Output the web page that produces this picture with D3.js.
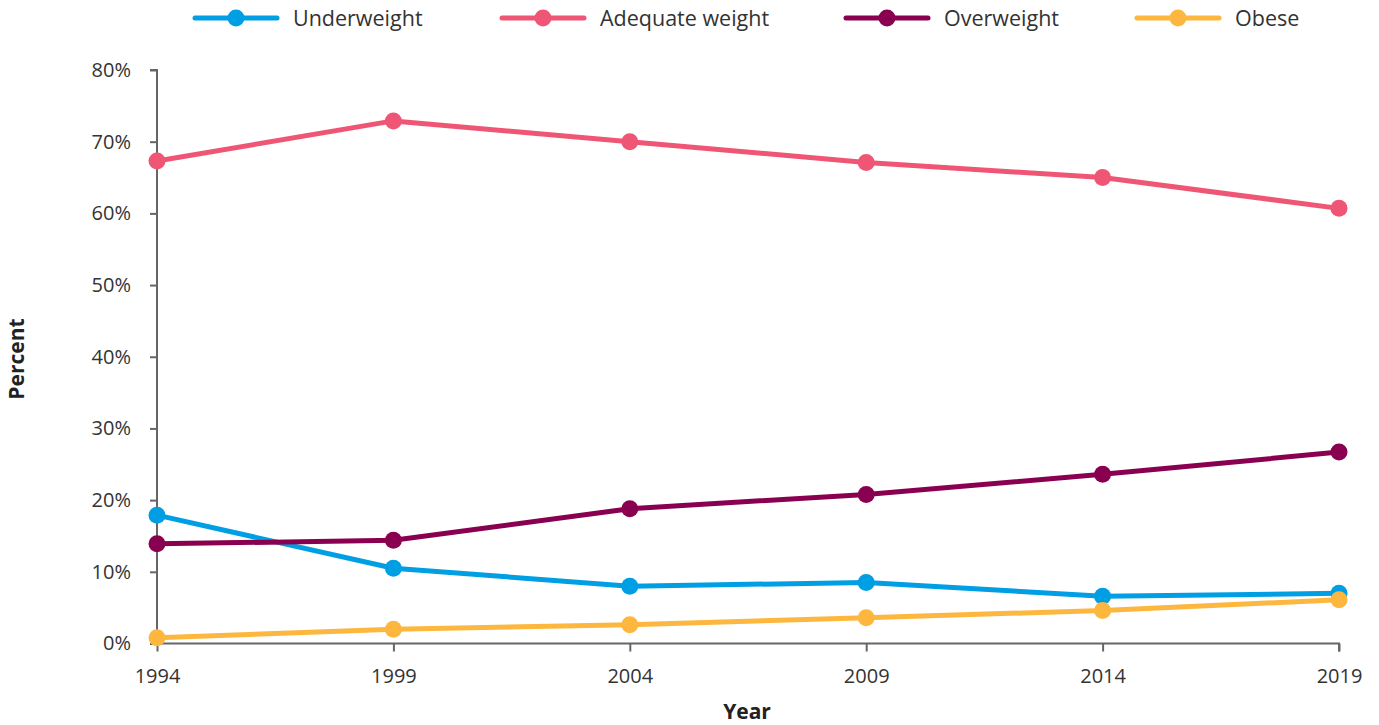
<!DOCTYPE html>
<html><head><meta charset="utf-8">
<script src="https://cdn.jsdelivr.net/npm/d3@7"></script>
<style>body{margin:0;background:#fff;}svg{display:block;font-family:"Open Sans",sans-serif;}</style>
</head><body><svg id="c" width="1379" height="725"></svg>
<script>
const years = [1994, 1999, 2004, 2009, 2014, 2019];
const underweight = [17.9, 10.5, 8.0, 8.5, 6.6, 7.0];
const adequate = [67.3, 72.9, 70.0, 67.1, 65.0, 60.7];
const overweight = [13.9, 14.4, 18.8, 20.8, 23.6, 26.7];
const obese = [0.8, 2.0, 2.6, 3.6, 4.6, 6.1];
const seriesNames = ["Underweight", "Adequate weight", "Overweight", "Obese"];
const seriesColors = ["#009fe3", "#ef5675", "#8a0051", "#fdb73f"];
const yTicks = [0, 10, 20, 30, 40, 50, 60, 70, 80];
const seriesValues = [underweight, adequate, overweight, obese];

const svg = d3.select("#c");
const x = d3.scaleLinear().domain([1994, 2019]).range([157, 1339]);
const y = d3.scaleLinear().domain([0, 80]).range([643.5, 70]);

// y axis
const yAxis = svg.append("g").attr("transform", "translate(157,0)")
  .call(d3.axisLeft(y).tickValues(yTicks).tickFormat(d => d + "%").tickSize(7).tickPadding(19));
yAxis.select(".domain").attr("stroke", "#666").attr("stroke-width", 2).attr("d", "M-7,70H0V643.5");
yAxis.selectAll(".tick line").attr("stroke", "#666").attr("stroke-width", 2);
yAxis.selectAll(".tick text").attr("fill", "#333").attr("font-size", 20).attr("font-family", "Open Sans");

// x axis
const xAxis = svg.append("g").attr("transform", "translate(0,643.5)")
  .call(d3.axisBottom(x).tickValues(years).tickFormat(d3.format("d")).tickSize(8).tickPadding(17));
xAxis.select(".domain").attr("stroke", "#666").attr("stroke-width", 2).attr("d", "M157,0H1339V8");
xAxis.selectAll(".tick line").attr("stroke", "#666").attr("stroke-width", 2);
xAxis.selectAll(".tick text").attr("fill", "#333").attr("font-size", 20).attr("font-family", "Open Sans");

// axis titles
svg.append("text").attr("x", 747).attr("y", 719).attr("text-anchor", "middle")
  .attr("font-weight", "bold").attr("font-size", 21).attr("fill", "#222").text("Year");
svg.append("text").attr("transform", "translate(24,359) rotate(-90)").attr("text-anchor", "middle")
  .attr("font-weight", "bold").attr("font-size", 21).attr("fill", "#222").text("Percent");

// lines
const line = d3.line().x((d, i) => x(years[i])).y(d => y(d));
seriesValues.forEach((vals, s) => {
  const g = svg.append("g");
  g.append("path").datum(vals).attr("d", line).attr("fill", "none")
    .attr("stroke", seriesColors[s]).attr("stroke-width", 5).attr("stroke-linejoin", "round");
  g.selectAll("circle").data(vals).join("circle")
    .attr("cx", (d, i) => x(years[i])).attr("cy", d => y(d)).attr("r", 8.5)
    .attr("fill", seriesColors[s]);
});

// legend
const legendX = [195, 502, 846, 1137];
seriesNames.forEach((name, s) => {
  const g = svg.append("g").attr("transform", `translate(${legendX[s]},18)`);
  g.append("line").attr("x1", 0).attr("x2", 82).attr("stroke", seriesColors[s])
    .attr("stroke-width", 5).attr("stroke-linecap", "round");
  g.append("circle").attr("cx", 41).attr("r", 8.5).attr("fill", seriesColors[s]);
  g.append("text").attr("x", 98).attr("y", 7.5).attr("font-size", 21.5).attr("fill", "#333").text(name);
});
</script></body></html>
